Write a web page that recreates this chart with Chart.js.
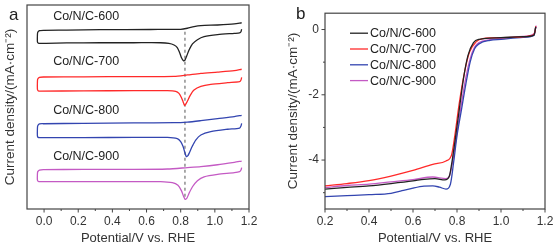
<!DOCTYPE html>
<html>
<head>
<meta charset="utf-8">
<script src="https://cdn.jsdelivr.net/npm/chart.js@4.4.1/dist/chart.umd.min.js"></script>
<style>
  body { margin: 0; background: #fff; width: 559px; height: 247px; overflow: hidden; position: relative; font-family: "Liberation Sans", Arial, sans-serif; }
  canvas { position: absolute; top: 0; }
  #cv-chart { left: 0; }
  #lsv-chart { left: 280px; }
  .tag { position: absolute; font-size: 17px; color: #222; line-height: 20px; }
</style>
</head>
<body>
<canvas id="cv-chart" width="280" height="247"></canvas>
<canvas id="lsv-chart" width="279" height="247"></canvas>
<div class="tag" style="left:9px;top:5px">a</div>
<div class="tag" style="left:296px;top:4px">b</div>
<script>
// ---- panel a: CV curves (stacked, arbitrary offset units) ----
const cvNames = ['Co/N/C-600', 'Co/N/C-700', 'Co/N/C-800', 'Co/N/C-900'];
const cvColors = ['#222222', '#ff2a2a', '#3345b0', '#c45ac4'];

const cv600X = [1.157, 1.114, 1.016, 0.918, 0.878, 0.839, 0.80, 0.624, 0.329, 0.133, -0.004, -0.027, -0.037, -0.039, -0.039, -0.035, -0.024, 0.133, 0.329, 0.525, 0.682, 0.731, 0.761, 0.780, 0.794, 0.804, 0.816, 0.825, 0.835, 0.849, 0.869, 0.898, 0.937, 1.016, 1.114, 1.145, 1.153, 1.157];
const cv600Y = [9.13, 9.07, 9.02, 8.99, 8.94, 8.86, 8.81, 8.80, 8.79, 8.77, 8.76, 8.74, 8.66, 8.53, 8.20, 8.14, 8.12, 8.14, 8.15, 8.15, 8.15, 8.12, 8.04, 7.91, 7.66, 7.43, 7.27, 7.30, 7.50, 7.79, 8.09, 8.30, 8.45, 8.55, 8.61, 8.63, 8.69, 8.81];

const cv700X = [1.157, 1.114, 1.016, 0.918, 0.839, 0.761, 0.525, 0.231, -0.004, -0.027, -0.037, -0.039, -0.039, -0.035, -0.024, 0.231, 0.525, 0.722, 0.771, 0.790, 0.804, 0.814, 0.822, 0.829, 0.839, 0.855, 0.878, 0.918, 0.976, 1.075, 1.145, 1.153, 1.157];
const cv700Y = [6.85, 6.78, 6.71, 6.65, 6.57, 6.50, 6.49, 6.48, 6.47, 6.45, 6.37, 6.24, 5.87, 5.80, 5.78, 5.79, 5.80, 5.80, 5.77, 5.67, 5.47, 5.26, 5.08, 5.13, 5.28, 5.56, 5.83, 6.01, 6.11, 6.19, 6.24, 6.32, 6.45];

const cv800X = [1.157, 1.114, 1.016, 0.918, 0.839, 0.761, 0.525, 0.231, -0.004, -0.027, -0.037, -0.039, -0.039, -0.035, -0.024, 0.231, 0.525, 0.722, 0.780, 0.800, 0.814, 0.824, 0.833, 0.841, 0.851, 0.867, 0.888, 0.918, 0.976, 1.075, 1.145, 1.153, 1.157];
const cv800Y = [4.59, 4.53, 4.43, 4.33, 4.26, 4.23, 4.22, 4.20, 4.18, 4.17, 4.08, 3.95, 3.58, 3.51, 3.50, 3.50, 3.51, 3.51, 3.45, 3.30, 3.06, 2.78, 2.57, 2.60, 2.76, 3.06, 3.38, 3.63, 3.79, 3.91, 3.97, 4.07, 4.20];

const cv900X = [1.157, 1.114, 1.016, 0.918, 0.839, 0.722, 0.525, 0.231, -0.004, -0.027, -0.037, -0.039, -0.039, -0.035, -0.024, 0.231, 0.525, 0.682, 0.751, 0.784, 0.804, 0.818, 0.827, 0.837, 0.849, 0.869, 0.898, 0.937, 1.016, 1.114, 1.145, 1.153, 1.157];
const cv900Y = [2.35, 2.29, 2.17, 2.08, 2.03, 1.96, 1.94, 1.94, 1.93, 1.91, 1.83, 1.72, 1.42, 1.36, 1.34, 1.34, 1.34, 1.34, 1.29, 1.16, 0.90, 0.60, 0.47, 0.54, 0.77, 1.09, 1.39, 1.58, 1.70, 1.78, 1.83, 1.91, 2.03];

const cvLabelX = [0.053, 0.053, 0.053, 0.053];
const cvLabelY = [9.41, 7.21, 4.85, 2.55];
const peakLineX = [0.825, 0.825];
const peakLineY = [8.69, 0.44];
const cvTicks = [0.0, 0.2, 0.4, 0.6, 0.8, 1.0, 1.2];
const cvMinorTicks = [0.1, 0.3, 0.5, 0.7, 0.9, 1.1];

// ---- panel b: LSV curves ----
const lsvNames = ['Co/N/C-600', 'Co/N/C-700', 'Co/N/C-800', 'Co/N/C-900'];
const lsvColors = ['#222222', '#ff2a2a', '#3345b0', '#c45ac4'];

const lsv600X = [0.2, 0.3, 0.4, 0.5, 0.6, 0.65, 0.7, 0.745, 0.765, 0.775, 0.79, 0.81, 0.83, 0.85, 0.875, 0.9, 1.0, 1.1, 1.15, 1.158];
const lsv600Y = [-4.89, -4.84, -4.79, -4.72, -4.64, -4.59, -4.57, -4.61, -4.50, -4.15, -3.46, -2.47, -1.48, -0.79, -0.40, -0.30, -0.25, -0.22, -0.17, 0.08];

const lsv700X = [0.2, 0.3, 0.4, 0.5, 0.6, 0.69, 0.75, 0.775, 0.79, 0.81, 0.835, 0.857, 0.887, 0.917, 1.0, 1.143, 1.155, 1.158];
const lsv700Y = [-4.79, -4.72, -4.63, -4.49, -4.32, -4.13, -4.03, -3.85, -3.26, -2.27, -1.28, -0.69, -0.38, -0.28, -0.25, -0.18, -0.05, 0.10];

const lsv800X = [0.2, 0.3, 0.4, 0.5, 0.55, 0.6, 0.65, 0.69, 0.72, 0.75, 0.77, 0.785, 0.8, 0.82, 0.84, 0.86, 0.88, 0.9, 0.95, 1.0, 1.1, 1.15, 1.158];
const lsv800Y = [-5.12, -5.09, -5.06, -5.02, -4.94, -4.86, -4.80, -4.79, -4.83, -4.89, -4.74, -4.05, -3.26, -2.47, -1.68, -0.99, -0.59, -0.44, -0.33, -0.30, -0.24, -0.18, 0.08];

const lsv900X = [0.2, 0.3, 0.4, 0.5, 0.6, 0.69, 0.75, 0.765, 0.78, 0.8, 0.82, 0.84, 0.86, 0.88, 0.9, 0.95, 1.0, 1.1, 1.15, 1.16];
const lsv900Y = [-4.84, -4.78, -4.74, -4.67, -4.60, -4.52, -4.57, -4.50, -4.05, -3.16, -2.27, -1.48, -0.89, -0.54, -0.40, -0.31, -0.27, -0.21, -0.13, 0.12];

const lsvXTicks = [0.2, 0.4, 0.6, 0.8, 1.0, 1.2];
const lsvXMinor = [0.3, 0.5, 0.7, 0.9, 1.1];
const lsvYTicks = [-4, -2, 0];
const lsvYMinor = [-5, -3, -1];

const FONT = '"Liberation Sans", Arial, sans-serif';
Chart.defaults.font.family = FONT;
Chart.defaults.color = '#333';

function pts(xs, ys) {
  return xs.map((x, i) => ({ x: x, y: ys[i] }));
}

// frame box + small tick marks
const frame = {
  id: 'frame',
  afterDraw(chart, args, opts) {
    const { ctx, chartArea: ca } = chart;
    const sx = chart.scales.x, sy = chart.scales.y;
    ctx.save();
    ctx.strokeStyle = '#444';
    ctx.lineWidth = 1.2;
    ctx.strokeRect(ca.left, ca.top, ca.right - ca.left, ca.bottom - ca.top);
    ctx.lineWidth = 1;
    const mark = (x1, y1, x2, y2) => { ctx.beginPath(); ctx.moveTo(x1, y1); ctx.lineTo(x2, y2); ctx.stroke(); };
    (opts.xMajor || []).forEach(v => { const p = sx.getPixelForValue(v); mark(p, ca.bottom, p, ca.bottom + 3.5); });
    (opts.xMinor || []).forEach(v => { const p = sx.getPixelForValue(v); mark(p, ca.bottom, p, ca.bottom + 2); });
    (opts.yMajor || []).forEach(v => { const p = sy.getPixelForValue(v); mark(ca.left, p, ca.left - 3.5, p); });
    (opts.yMinor || []).forEach(v => { const p = sy.getPixelForValue(v); mark(ca.left, p, ca.left - 2, p); });
    ctx.restore();
  }
};

// text labels next to CV curves
const cvLabels = {
  id: 'cvLabels',
  afterDatasetsDraw(chart) {
    const { ctx } = chart;
    const sx = chart.scales.x, sy = chart.scales.y;
    ctx.save();
    ctx.font = '12.5px ' + FONT;
    ctx.fillStyle = '#222';
    ctx.textBaseline = 'middle';
    cvNames.forEach((name, i) => {
      ctx.fillText(name, sx.getPixelForValue(cvLabelX[i]), sy.getPixelForValue(cvLabelY[i]));
    });
    ctx.restore();
  }
};

// legend drawn inside the LSV plot area
const lsvLegend = {
  id: 'lsvLegend',
  afterDatasetsDraw(chart) {
    const { ctx, chartArea: ca } = chart;
    ctx.save();
    ctx.font = '12.5px ' + FONT;
    ctx.textBaseline = 'middle';
    lsvNames.forEach((name, i) => {
      const y = ca.top + 20 + i * 15.8;
      ctx.strokeStyle = lsvColors[i];
      ctx.lineWidth = 1.3;
      ctx.beginPath();
      ctx.moveTo(ca.left + 25, y);
      ctx.lineTo(ca.left + 43, y);
      ctx.stroke();
      ctx.fillStyle = '#222';
      ctx.fillText(name, ca.left + 45, y + 0.5);
    });
    ctx.restore();
  }
};

const yTitle = 'Current density/(mA\u00b7cm\u207b\u00b2)';
const xTitle = 'Potential/V vs. RHE';

const cvData = [pts(cv600X, cv600Y), pts(cv700X, cv700Y), pts(cv800X, cv800Y), pts(cv900X, cv900Y)];
const cvDatasets = cvData.map((d, i) => ({
  label: cvNames[i],
  data: d,
  showLine: true,
  borderColor: cvColors[i],
  borderWidth: 1.3,
  pointRadius: 0,
  tension: 0.25,
  fill: false
}));
cvDatasets.push({
  label: 'peak',
  data: pts(peakLineX, peakLineY),
  showLine: true,
  borderColor: '#555',
  borderWidth: 1,
  borderDash: [3, 3],
  pointRadius: 0
});

new Chart(document.getElementById('cv-chart'), {
  type: 'scatter',
  data: { datasets: cvDatasets },
  options: {
    responsive: false,
    animation: false,
    layout: { padding: { top: 5, right: 31, left: 0, bottom: 0 } },
    plugins: {
      legend: { display: false },
      tooltip: { enabled: false },
      frame: { xMajor: cvTicks, xMinor: cvMinorTicks }
    },
    scales: {
      x: {
        type: 'linear', min: -0.1, max: 1.2,
        afterBuildTicks: s => { s.ticks = cvTicks.map(v => ({ value: v })); },
        ticks: { callback: v => v.toFixed(1), padding: 5, font: { size: 12 }, maxRotation: 0, autoSkip: false },
        grid: { display: false, drawTicks: false },
        border: { display: false },
        title: { display: true, text: xTitle, font: { size: 13 }, padding: { top: 0, bottom: 1 } },
        afterFit: s => { s.height = 38; }
      },
      y: {
        min: 0, max: 10,
        ticks: { display: false },
        grid: { display: false, drawTicks: false },
        border: { display: false },
        title: { display: true, text: yTitle, font: { size: 13.5 }, padding: { top: 2, bottom: 0 } },
        afterFit: s => { s.width = 27; }
      }
    }
  },
  plugins: [frame, cvLabels]
});

const lsvData = [pts(lsv600X, lsv600Y), pts(lsv700X, lsv700Y), pts(lsv800X, lsv800Y), pts(lsv900X, lsv900Y)];

new Chart(document.getElementById('lsv-chart'), {
  type: 'scatter',
  data: {
    datasets: lsvData.map((d, i) => ({
      label: lsvNames[i],
      data: d,
      showLine: true,
      borderColor: lsvColors[i],
      borderWidth: 1.3,
      pointRadius: 0,
      cubicInterpolationMode: 'monotone',
      fill: false
    }))
  },
  options: {
    responsive: false,
    animation: false,
    layout: { padding: { top: 5, right: 14, left: 0, bottom: 0 } },
    plugins: {
      legend: { display: false },
      tooltip: { enabled: false },
      frame: { xMajor: lsvXTicks, xMinor: lsvXMinor, yMajor: lsvYTicks, yMinor: lsvYMinor }
    },
    scales: {
      x: {
        type: 'linear', min: 0.2, max: 1.2,
        afterBuildTicks: s => { s.ticks = lsvXTicks.map(v => ({ value: v })); },
        ticks: { callback: v => v.toFixed(1), padding: 5, font: { size: 12 }, maxRotation: 0, autoSkip: false },
        grid: { display: false, drawTicks: false },
        border: { display: false },
        title: { display: true, text: xTitle, font: { size: 13 }, padding: { top: 0, bottom: 1 } },
        afterFit: s => { s.height = 38; }
      },
      y: {
        min: -5.5, max: 0.5,
        afterBuildTicks: s => { s.ticks = lsvYTicks.map(v => ({ value: v })); },
        ticks: { callback: v => String(v), padding: 6, font: { size: 12 } },
        grid: { display: false, drawTicks: false },
        border: { display: false },
        title: { display: true, text: yTitle, font: { size: 13.5 }, padding: { top: 5, bottom: 0 } },
        afterFit: s => { s.width = 45; }
      }
    }
  },
  plugins: [frame, lsvLegend]
});
</script>
</body>
</html>
